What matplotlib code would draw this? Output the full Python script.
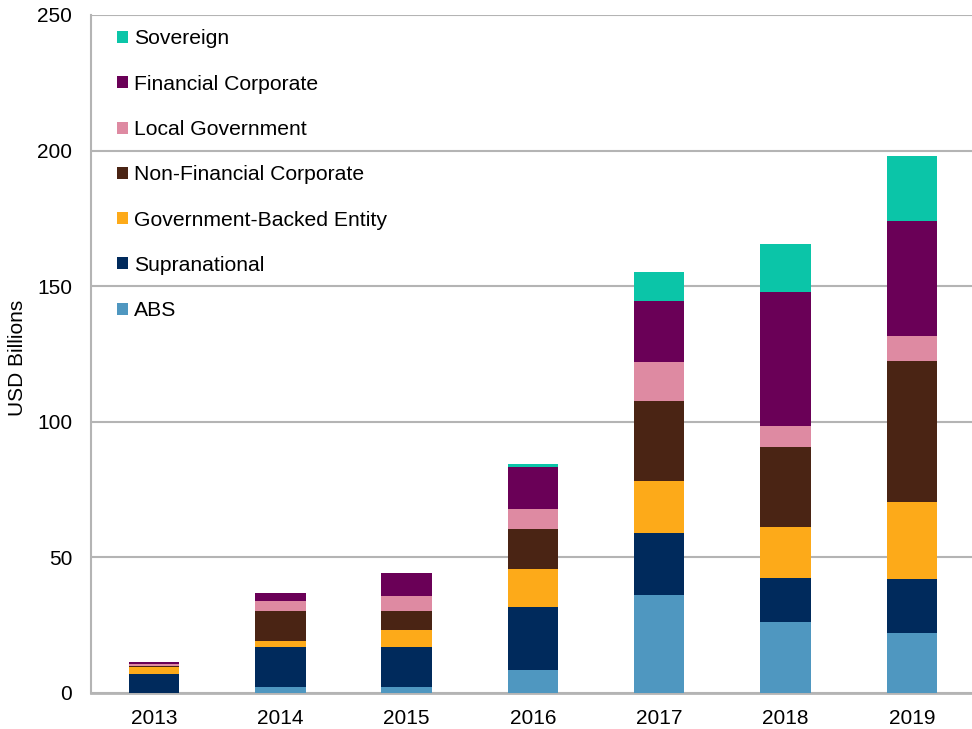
import matplotlib
matplotlib.use("Agg")
import matplotlib.pyplot as plt
from matplotlib.patches import Patch
import numpy as np

plt.rcParams['font.family'] = ['Liberation Sans', 'DejaVu Sans']

years = ["2013", "2014", "2015", "2016", "2017", "2018", "2019"]

abs_vals = [0.0, 2.2, 2.1, 8.6, 36.1, 26.2, 22.0]
supranational = [7.0, 14.9, 14.9, 23.0, 22.9, 16.2, 20.1]
gov_backed = [2.6, 2.2, 6.1, 14.3, 19.2, 18.9, 28.3]
non_fin_corp = [0.5, 11.0, 7.2, 14.5, 29.5, 29.5, 52.0]
local_gov = [0.5, 3.8, 5.4, 7.6, 14.2, 7.5, 9.1]
fin_corp = [0.7, 2.7, 8.7, 15.5, 22.5, 49.6, 42.7]
sovereign = [0.0, 0.0, 0.0, 0.9, 10.9, 17.6, 23.8]

series = [
    ("ABS", abs_vals, "#4F97C0"),
    ("Supranational", supranational, "#002A5C"),
    ("Government-Backed Entity", gov_backed, "#FDAA19"),
    ("Non-Financial Corporate", non_fin_corp, "#4A2414"),
    ("Local Government", local_gov, "#DE8AA2"),
    ("Financial Corporate", fin_corp, "#6A0057"),
    ("Sovereign", sovereign, "#0BC5A8"),
]

fig = plt.figure(figsize=(9.72, 7.29), dpi=100)
ax = fig.add_axes([90.8 / 972, 1 - 693 / 729, (975 - 90.8) / 972, (693 - 15) / 729])

x = np.arange(len(years))
bottom = np.zeros(len(years))
for name, vals, color in series:
    ax.bar(x, vals, width=0.40, bottom=bottom, color=color, label=name,
           edgecolor="none", zorder=3)
    bottom += np.array(vals)

ax.set_xlim(-0.5, len(years) - 0.5)
ax.set_ylim(0, 250)
ax.set_yticks(np.arange(0, 251, 50))
ax.set_xticks(x)
ax.set_xticklabels(years)
ax.tick_params(axis="both", length=0, labelsize=15, colors="black")
ax.tick_params(axis="y", pad=13.5)
ax.tick_params(axis="x", pad=11.5)
ax.yaxis.grid(True, color="#B4B4B4", linewidth=1.5, zorder=0)
ax.set_axisbelow(True)
for s in ["top", "right"]:
    ax.spines[s].set_visible(False)
ax.spines["left"].set_color("#B4B4B4")
ax.spines["left"].set_linewidth(1.5)
ax.spines["bottom"].set_color("#B4B4B4")
ax.spines["bottom"].set_linewidth(2)

ax.set_ylabel("USD Billions", fontsize=15)
ax.yaxis.set_label_coords(-0.0722, 0.494)

handles = [Patch(facecolor=c, edgecolor="none", label=n) for n, v, c in reversed(series)]
ax.legend(handles=handles, loc="upper left", bbox_to_anchor=(0.03, 0.9787),
          frameon=False, fontsize=15.2, handlelength=0.5, handleheight=0.5,
          handletextpad=0.3, labelspacing=1.246, borderaxespad=0, borderpad=0)

fig.savefig("out.png", dpi=100)
